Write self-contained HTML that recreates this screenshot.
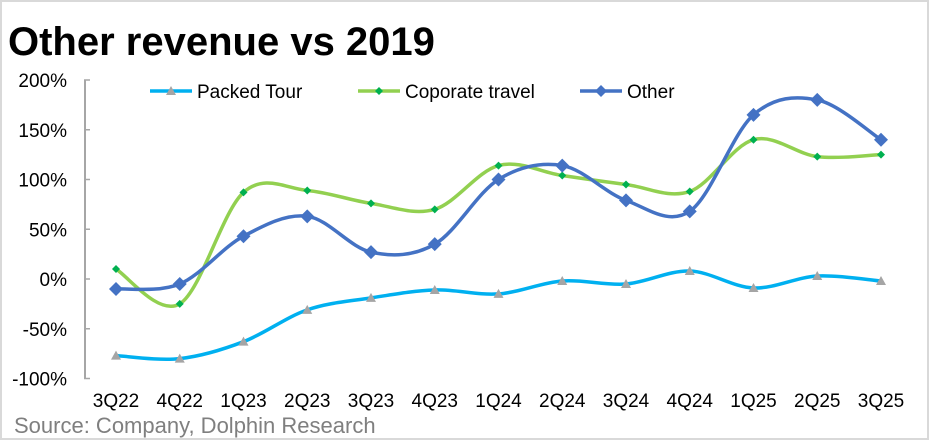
<!DOCTYPE html>
<html><head><meta charset="utf-8"><style>
body{margin:0;background:#fff;}
svg{display:block;font-family:"Liberation Sans",sans-serif;}
</style></head><body>
<svg id="c" width="929" height="440" viewBox="0 0 929 440">
<rect x="1" y="1" width="927" height="438" fill="#fff" stroke="#d9d9d9" stroke-width="2"/>
<text x="8" y="55" font-size="40" font-weight="bold" fill="#000">Other revenue vs 2019</text>
<text x="14" y="433" font-size="22" fill="#7f7f7f">Source: Company, Dolphin Research</text>
<g id="axis"></g>
<g id="xl"></g>
<g id="series"></g>
<g id="legend"></g>
</svg>
<script>
const categories=["3Q22","4Q22","1Q23","2Q23","3Q23","4Q23","1Q24","2Q24","3Q24","4Q24","1Q25","2Q25","3Q25"];
const packedTour=[-77,-80,-63,-31,-19,-11,-15,-2,-5,8,-9,3,-2];
const corporateTravel=[10,-25,87,89,76,70,114,104,95,88,140,123,125];
const other=[-10,-5,43,63,27,35,100,114,79,68,165,180,140];
const yTicks=[200,150,100,50,0,-50,-100];
const NS="http://www.w3.org/2000/svg";
function x(i){return 116+i*63.75;}
function y(v){return 279-v*0.995;}
function mk(t,a,p){const e=document.createElementNS(NS,t);for(const k in a)e.setAttribute(k,a[k]);p.appendChild(e);return e;}
const ax=document.getElementById('axis');
const al=mk('line',{x1:85,x2:85,y1:y(200),y2:y(-100),stroke:'#a6a6a6','stroke-width':2},ax);


yTicks.forEach(v=>{
 const t=mk('line',{x1:84,x2:90,y1:y(v),y2:y(v),stroke:'#a6a6a6','stroke-width':1.5},ax);
 
 
 const l=mk('text',{x:67,y:y(v)+7,'font-size':19,'text-anchor':'end',fill:'#000'},ax);
 l.textContent=v+'%';
 
 
});
const xl=document.getElementById('xl');
categories.forEach((c,i)=>{
 const l=mk('text',{x:x(i),y:407,'font-size':19,'text-anchor':'middle',fill:'#000'},xl);
 l.textContent=c;
 
 
});
function path(vals){
 const p=vals.map((v,i)=>[x(i),y(v)]);
 let d='M'+p[0][0]+','+p[0][1];
 for(let i=0;i<p.length-1;i++){
  const p0=p[i-1]||p[i],p1=p[i],p2=p[i+1],p3=p[i+2]||p2;
  const t=1/6;
  d+=` C${p1[0]+(p2[0]-p0[0])*t},${p1[1]+(p2[1]-p0[1])*t} ${p2[0]-(p3[0]-p1[0])*t},${p2[1]-(p3[1]-p1[1])*t} ${p2[0]},${p2[1]}`;
 }
 return d;
}
function marker(g,type,cx,cy,color,s){
 let e;
 if(type==='tri') e=mk('polygon',{points:`${cx},${cy-s} ${cx+s},${cy+s*0.8} ${cx-s},${cy+s*0.8}`,fill:color},g);
 else e=mk('polygon',{points:`${cx},${cy-s} ${cx+s},${cy} ${cx},${cy+s} ${cx-s},${cy}`,fill:color},g);
 return e;
}
const S=document.getElementById('series');
const series=[
 {name:'Packed Tour',vals:packedTour,color:'#00b0f0',mc:'#a5a5a5',m:'tri',ms:5,id:'packed-tour'},
 {name:'Coporate travel',vals:corporateTravel,color:'#92d050',mc:'#00b050',m:'dia',ms:4,id:'corporate-travel'},
 {name:'Other',vals:other,color:'#4472c4',mc:'#4472c4',m:'dia',ms:7,id:'other'}
];
series.forEach(s=>{
 const g=mk('g',{},S);
 
 
 const l=mk('path',{d:path(s.vals),fill:'none',stroke:s.color,'stroke-width':3.5},g);
 
 
 s.vals.forEach((v,i)=>{
  const m=marker(g,s.m,x(i),y(v),s.mc,s.ms);
  
  
 });
});
const L=document.getElementById('legend');
const lx=[150,358,580];
series.forEach((s,i)=>{
 const g=mk('g',{},L);
 
 
 mk('line',{x1:lx[i],x2:lx[i]+42,y1:91,y2:91,stroke:s.color,'stroke-width':3.5},g);
 marker(g,s.m,lx[i]+21,91,s.mc,s.m==='tri'?5:(s.ms>5?6:4));
 const t=mk('text',{x:lx[i]+47,y:98,'font-size':19,fill:'#000'},g);
 t.textContent=s.name;
});
</script>
</body></html>
